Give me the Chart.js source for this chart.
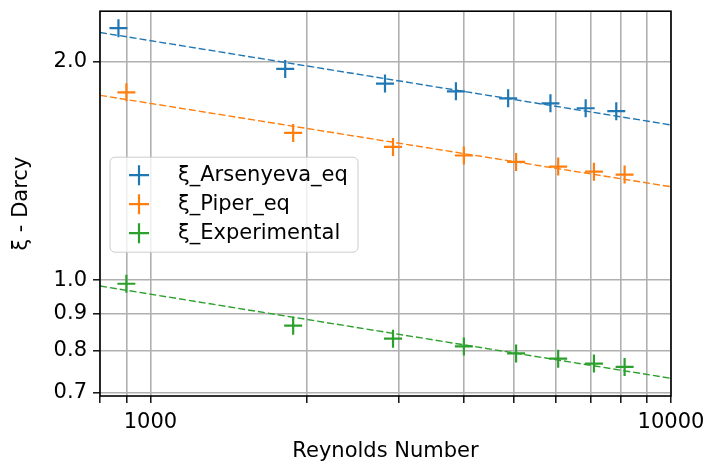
<!DOCTYPE html>
<html>
<head>
<meta charset="utf-8">
<script src="https://cdn.jsdelivr.net/npm/chart.js@4/dist/chart.umd.min.js"></script>
<style>
  html, body { margin: 0; padding: 0; background: #fff; }
  canvas { display: block; }
</style>
</head>
<body>
<canvas id="chart-darcy" width="720" height="465"></canvas>
<script>
// Reynolds numbers of the measured points
const reArsenyeva = [868, 1815, 2822, 3862, 4866, 5867, 6856, 7850];
const reOther = [899, 1880, 2924, 4000, 5040, 6071, 7112, 8145];

// friction factor values
const xiArsenyeva = [2.223, 1.954, 1.865, 1.820, 1.780, 1.752, 1.725, 1.709];
const xiPiper = [1.814, 1.595, 1.526, 1.485, 1.455, 1.434, 1.411, 1.398];
const xiExperimental = [0.989, 0.866, 0.831, 0.811, 0.793, 0.780, 0.768, 0.760];

// dashed fit lines, end points
const fitRe = [800, 10000];
const fitArsenyeva = [2.193, 1.636];
const fitPiper = [1.797, 1.345];
const fitExperimental = [0.982, 0.733];

const seriesLabels = ['ξ_Arsenyeva_eq', 'ξ_Piper_eq', 'ξ_Experimental'];
const seriesColors = ['#1f77b4', '#ff7f0e', '#2ca02c'];

// tick values
const xTicks = [800, 900, 1000, 2000, 3000, 4000, 5000, 6000, 7000, 8000, 9000, 10000];
const xLabelled = [1000, 10000];
const yTicks = [0.7, 0.8, 0.9, 1.0, 2.0];

const FONT = '"DejaVu Sans", sans-serif';
const FS = 21;

function pts(xs, ys) {
  return xs.map((x, i) => ({ x: x, y: ys[i] }));
}

function markerSet(label, xs, ys, color) {
  return {
    label: label,
    data: pts(xs, ys),
    showLine: false,
    pointStyle: 'cross',
    pointRadius: 9,
    pointHoverRadius: 9,
    pointBorderWidth: 2.2,
    borderColor: color,
    backgroundColor: color,
    order: 1
  };
}

function fitSet(ys, color) {
  return {
    label: 'fit',
    data: pts(fitRe, ys),
    showLine: true,
    pointRadius: 0,
    borderColor: color,
    borderWidth: 1.4,
    borderDash: [7, 3],
    fill: false,
    order: 2
  };
}

const frameAndLegend = {
  id: 'frameAndLegend',
  afterDatasetsDraw(chart) {
    const { ctx, chartArea: a } = chart;
    ctx.save();
    ctx.strokeStyle = '#000';
    ctx.lineWidth = 1.6;
    ctx.strokeRect(a.left, a.top, a.right - a.left, a.bottom - a.top);

    // legend box inside the plot
    const bx = a.left + 10, by = a.top + 146, bw = 248, bh = 95, r = 5;
    ctx.beginPath();
    ctx.moveTo(bx + r, by);
    ctx.arcTo(bx + bw, by, bx + bw, by + bh, r);
    ctx.arcTo(bx + bw, by + bh, bx, by + bh, r);
    ctx.arcTo(bx, by + bh, bx, by, r);
    ctx.arcTo(bx, by, bx + bw, by, r);
    ctx.closePath();
    ctx.fillStyle = 'rgba(255,255,255,0.8)';
    ctx.fill();
    ctx.strokeStyle = '#cccccc';
    ctx.lineWidth = 1;
    ctx.stroke();

    ctx.font = FS + 'px ' + FONT;
    ctx.textBaseline = 'middle';
    ctx.textAlign = 'left';
    seriesLabels.forEach((lab, i) => {
      const cy = by + 18 + i * 29;
      const cx = bx + 29;
      ctx.strokeStyle = seriesColors[i];
      ctx.lineWidth = 2.2;
      ctx.beginPath();
      ctx.moveTo(cx - 10, cy); ctx.lineTo(cx + 10, cy);
      ctx.moveTo(cx, cy - 10); ctx.lineTo(cx, cy + 10);
      ctx.stroke();
      ctx.fillStyle = '#000';
      ctx.fillText(lab, bx + 68, cy);
    });
    ctx.restore();
  }
};

new Chart(document.getElementById('chart-darcy'), {
  type: 'scatter',
  data: {
    datasets: [
      markerSet(seriesLabels[0], reArsenyeva, xiArsenyeva, seriesColors[0]),
      fitSet(fitArsenyeva, seriesColors[0]),
      markerSet(seriesLabels[1], reOther, xiPiper, seriesColors[1]),
      fitSet(fitPiper, seriesColors[1]),
      markerSet(seriesLabels[2], reOther, xiExperimental, seriesColors[2]),
      fitSet(fitExperimental, seriesColors[2])
    ]
  },
  options: {
    responsive: false,
    animation: false,
    devicePixelRatio: 1,
    layout: { padding: { top: 5, right: 49, left: 0, bottom: 0 } },
    plugins: {
      legend: { display: false },
      tooltip: { enabled: false }
    },
    scales: {
      x: {
        type: 'logarithmic',
        min: 800,
        max: 10000,
        afterBuildTicks: (scale) => { scale.ticks = xTicks.map(v => ({ value: v })); },
        afterFit: (scale) => { scale.height = 69; },
        grid: { color: '#b0b0b0', lineWidth: 1.6, tickColor: '#000', tickLength: 7, tickWidth: 1.4 },
        border: { display: false },
        ticks: {
          autoSkip: false,
          maxRotation: 0,
          padding: 7,
          color: '#000',
          font: { family: FONT, size: FS },
          callback: (v) => xLabelled.includes(v) ? String(v) : ''
        },
        title: {
          display: true,
          text: 'Reynolds Number',
          color: '#000',
          font: { family: FONT, size: FS },
          padding: { top: 0, bottom: 1 }
        }
      },
      y: {
        type: 'logarithmic',
        min: 0.693,
        max: 2.346,
        afterBuildTicks: (scale) => { scale.ticks = yTicks.map(v => ({ value: v })); },
        afterFit: (scale) => { scale.width = 100; },
        grid: { color: '#b0b0b0', lineWidth: 1.6, tickColor: '#000', tickLength: 7, tickWidth: 1.4 },
        border: { display: false },
        ticks: {
          autoSkip: false,
          padding: 6,
          color: '#000',
          font: { family: FONT, size: FS, lineHeight: 0.01 },
          callback: (v) => Number(v).toFixed(1)
        },
        title: {
          display: true,
          text: 'ξ - Darcy',
          color: '#000',
          font: { family: FONT, size: FS },
          padding: { top: 9, bottom: 0 }
        }
      }
    }
  },
  plugins: [frameAndLegend]
});
</script>
</body>
</html>
